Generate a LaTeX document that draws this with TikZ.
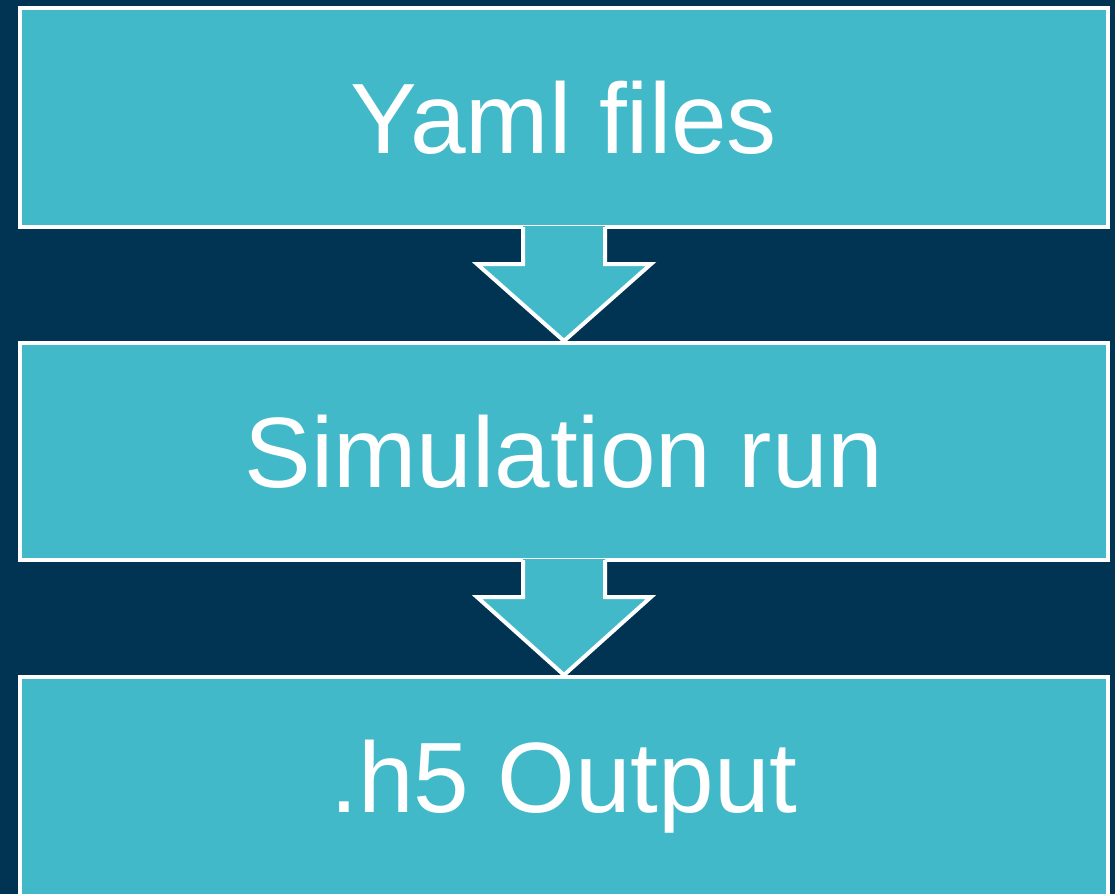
\documentclass[tikz,border=0pt]{standalone}
\usepackage{fontspec}
\setmainfont{Liberation Sans}
\usetikzlibrary{calc}
\definecolor{bgblue}{HTML}{003452}
\definecolor{teal}{HTML}{42B9C9}
\tikzset{
  stepbox/.style={draw=white, fill=teal, line width=4pt, minimum width=1088pt,
    minimum height=219pt, inner sep=0pt, text=white, font=\fontsize{100}{110}\selectfont},
  flowarrow/.style={fill=teal},
  flowedge/.style={draw=white, line width=4pt, line join=miter},
}
\begin{document}
\begin{tikzpicture}[x=1pt,y=-1pt]
\fill[bgblue] (0,0) rectangle (1115,894);
\useasboundingbox (0,0) rectangle (1115,894);
\node[stepbox] (yaml) at (564,117.5) {Yaml files};
\node[stepbox, minimum height=217pt] (sim) at (564,451.5) {Simulation run};
\node[stepbox] (out) at (564,786.5) {.h5 Output};
\foreach \a/\b in {yaml/sim, sim/out} {
  \fill[flowarrow] ($(\a.south)+(-41,-3)$) -- ($(\a.south)+(-41,35)$) -- ($(\a.south)+(-87,35)$)
     -- (\b.north) -- ($(\a.south)+(87,35)$) -- ($(\a.south)+(41,35)$) -- ($(\a.south)+(41,-3)$) -- cycle;
  \draw[flowedge] ($(\a.south)+(-41,-2)$) -- ($(\a.south)+(-41,35)$) -- ($(\a.south)+(-87,35)$)
     -- (\b.north) -- ($(\a.south)+(87,35)$) -- ($(\a.south)+(41,35)$) -- ($(\a.south)+(41,-2)$);
}
\end{tikzpicture}
\end{document}
